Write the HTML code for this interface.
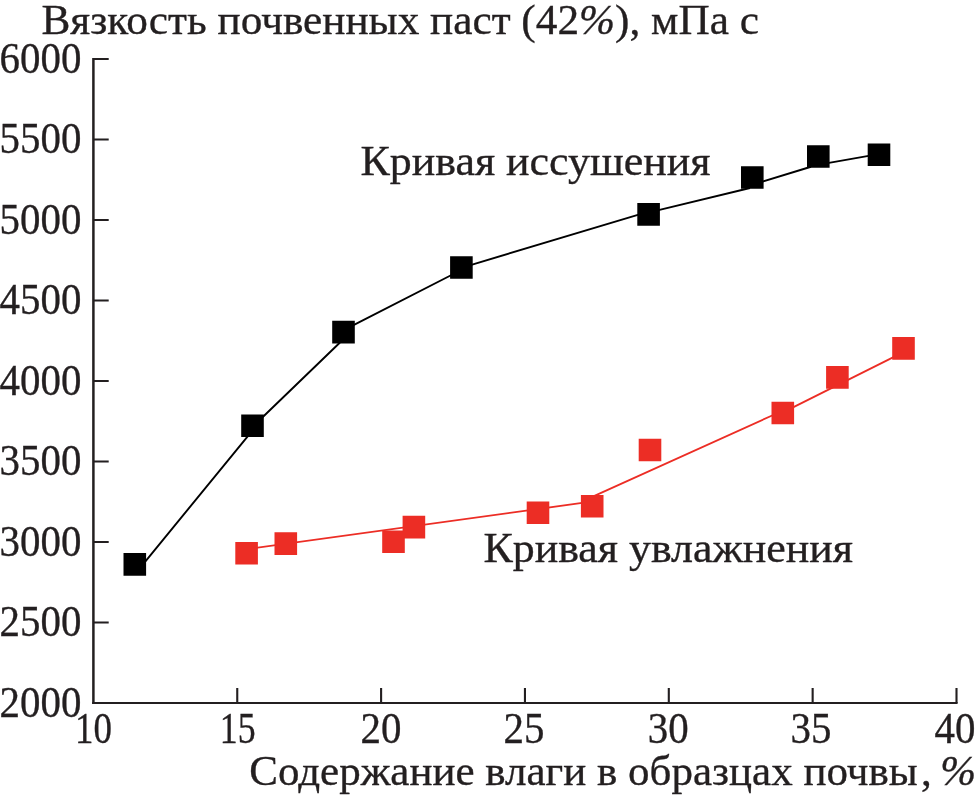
<!DOCTYPE html>
<html lang="ru"><head><meta charset="utf-8"><title>Вязкость почвенных паст</title>
<style>
html,body{margin:0;padding:0;background:#fff;}
body{width:976px;height:798px;overflow:hidden;}
svg{display:block;}
text{font-family:"Liberation Serif","Noto Serif CJK SC",serif;fill:#231f20;stroke:#231f20;stroke-width:0.35px;}
</style></head><body>
<svg width="976" height="798" viewBox="0 0 976 798">
<rect width="976" height="798" fill="#fff"/>
<path d="M93.4 58V704.1" stroke="#231f20" stroke-width="2.5" fill="none"/>
<path d="M92.2 703H957.6" stroke="#231f20" stroke-width="2.2" fill="none"/>
<path d="M93.4 622.5H108.7M93.4 542H108.7M93.4 461.5H108.7M93.4 381H108.7M93.4 300.5H108.7M93.4 220H108.7M93.4 139.5H108.7M93.4 59H108.7M237.25 703V688M381.1 703V688M524.95 703V688M668.8 703V688M812.65 703V688M956.5 703V688" stroke="#231f20" stroke-width="2.1" fill="none"/>
<path d="M144 563.05L248.5 435.4M261.5 418.22L340 342.54M352.5 325.68L452 274.77M470.5 265.05L639.5 214.35M657.5 210.41L750 187.98M761.5 181.98L811 166.78M827.5 163.07L870 155.63" stroke="#000" stroke-width="1.9" fill="none"/>
<path d="M250 548.6L584 502.7L590 497.9L775 414.2L785 411.4L900 353.9" stroke="#ec2d25" stroke-width="1.8" fill="none" stroke-linejoin="round"/>
<path d="M123.5 553.1h22.6v22.6h-22.6zM241.2 414.5h22.6v22.6h-22.6zM332.2 320.8h22.6v22.6h-22.6zM450.1 256.2h22.6v22.6h-22.6zM637.3 203.1h22.6v22.6h-22.6zM741 166.2h22.6v22.6h-22.6zM807 145.2h22.6v22.6h-22.6zM867.7 143.4h22.6v22.6h-22.6z" fill="#000"/>
<path d="M235.3 542h22.6v22.6h-22.6zM274.5 532.3h22.6v22.6h-22.6zM382.2 530.5h22.6v22.6h-22.6zM402.6 515.8h22.6v22.6h-22.6zM526.7 501.5h22.6v22.6h-22.6zM580.9 494.9h22.6v22.6h-22.6zM638.7 438.7h22.6v22.6h-22.6zM771.5 401.7h22.6v22.6h-22.6zM826.1 366.1h22.6v22.6h-22.6zM892.2 337.1h22.6v22.6h-22.6z" fill="#ec2d25"/>
<text transform="translate(41.47 33.8) scale(1.0182 1)" font-size="42.5">Вязкость почвенных паст (42<tspan font-style="italic">%</tspan>), мПа с</text>
<text transform="translate(81.4 716.7) scale(0.92 1)" font-size="44.5" text-anchor="end">2000</text>
<text transform="translate(81.4 636.2) scale(0.92 1)" font-size="44.5" text-anchor="end">2500</text>
<text transform="translate(81.4 555.7) scale(0.92 1)" font-size="44.5" text-anchor="end">3000</text>
<text transform="translate(81.4 475.2) scale(0.92 1)" font-size="44.5" text-anchor="end">3500</text>
<text transform="translate(81.4 394.7) scale(0.92 1)" font-size="44.5" text-anchor="end">4000</text>
<text transform="translate(81.4 314.2) scale(0.92 1)" font-size="44.5" text-anchor="end">4500</text>
<text transform="translate(81.4 233.7) scale(0.92 1)" font-size="44.5" text-anchor="end">5000</text>
<text transform="translate(81.4 153.2) scale(0.92 1)" font-size="44.5" text-anchor="end">5500</text>
<text transform="translate(81.4 72.7) scale(0.92 1)" font-size="44.5" text-anchor="end">6000</text>
<text transform="translate(93.5 742.5) scale(0.83 1)" font-size="44.5" text-anchor="middle">10</text>
<text transform="translate(237.7 742.5) scale(0.805 1)" font-size="44.5" text-anchor="middle">15</text>
<text transform="translate(381 742.5) scale(0.92 1)" font-size="44.5" text-anchor="middle">20</text>
<text transform="translate(523.9 742.5) scale(0.92 1)" font-size="44.5" text-anchor="middle">25</text>
<text transform="translate(668.2 742.5) scale(0.92 1)" font-size="44.5" text-anchor="middle">30</text>
<text transform="translate(811 742.5) scale(0.92 1)" font-size="44.5" text-anchor="middle">35</text>
<text transform="translate(955 742.5) scale(0.92 1)" font-size="44.5" text-anchor="middle">40</text>
<text transform="translate(249.2 784.8) scale(1.0123 1)" font-size="42.5">Содержание влаги в образцах почвы<tspan dx="3.2">,</tspan> <tspan font-style="italic" dx="-2.1">%</tspan></text>
<text transform="translate(360.55 174.8) scale(1.0333 1)" font-size="42.5">Кривая иссушения</text>
<text transform="translate(483.45 561.7) scale(1.0335 1)" font-size="42.5">Кривая увлажнения</text>
</svg>
</body></html>
